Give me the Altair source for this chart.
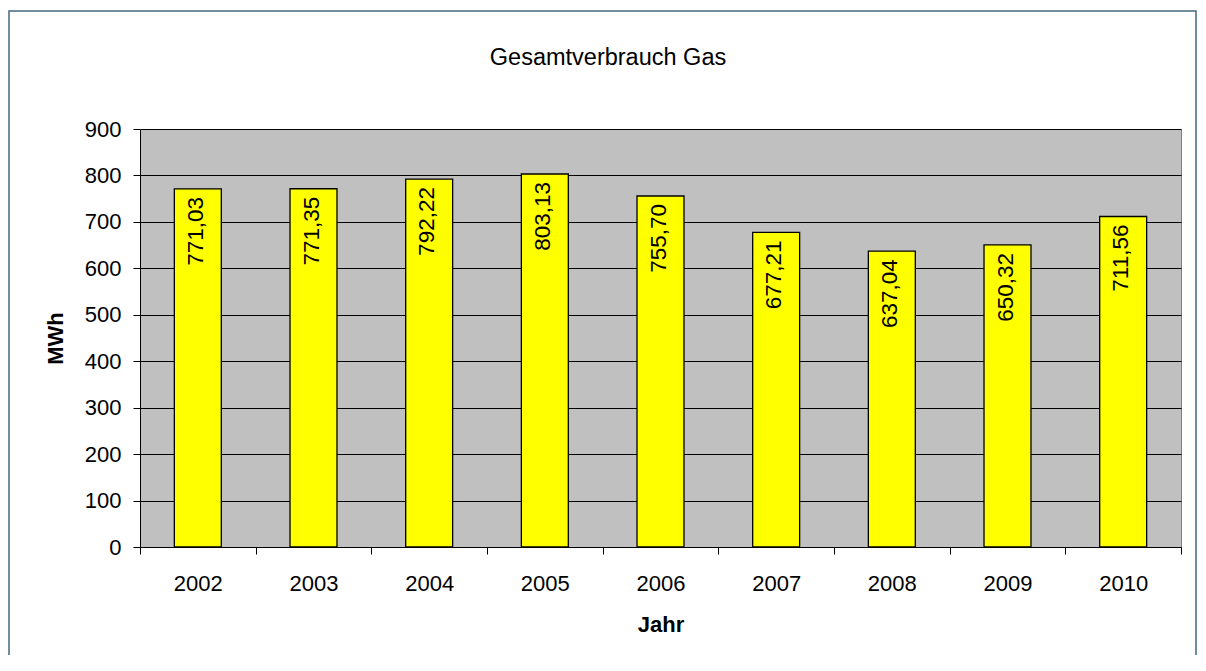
import altair as alt
import pandas as pd

years = ["2002", "2003", "2004", "2005", "2006", "2007", "2008", "2009", "2010"]
values = [771.03, 771.35, 792.22, 803.13, 755.70, 677.21, 637.04, 650.32, 711.56]
labels = [f"{v:.2f}".replace(".", ",") for v in values]
y_ticks = [0, 100, 200, 300, 400, 500, 600, 700, 800, 900]
title_text = "Gesamtverbrauch Gas"
x_title = "Jahr"
y_title = "MWh"

FONT = "Liberation Sans, Arial, Helvetica, sans-serif"

df = pd.DataFrame({"Jahr": years, "MWh": values, "label": labels})

x_enc = alt.X(
    "Jahr:N",
    sort=years,
    scale=alt.Scale(paddingInner=0, paddingOuter=0),
    axis=alt.Axis(
        title=x_title,
        labelAngle=0,
        labelFont=FONT,
        labelFontSize=22,
        labelColor="black",
        labelPadding=19,
        tickBand="extent",
        tickColor="black",
        tickSize=7,
        domainColor="black",
        grid=False,
        titleFont=FONT,
        titleFontSize=22,
        titleFontWeight="bold",
        titleColor="black",
        titlePadding=20,
    ),
)

y_enc = alt.Y(
    "MWh:Q",
    scale=alt.Scale(domain=[0, 900], nice=False, zero=True),
    axis=alt.Axis(
        title=y_title,
        values=y_ticks,
        labelFont=FONT,
        labelFontSize=22,
        labelColor="black",
        labelPadding=12,
        tickColor="black",
        tickSize=7,
        domainColor="black",
        grid=True,
        gridColor="black",
        gridOpacity=1,
        gridWidth=1,
        titleFont=FONT,
        titleFontSize=22,
        titleFontWeight="bold",
        titleColor="black",
        titlePadding=17,
    ),
)

base = alt.Chart(df)

bars = base.mark_bar(
    color="#FFFF00", stroke="black", strokeWidth=1.3, width=alt.RelativeBandSize(0.406)
).encode(x=x_enc, y=y_enc)

texts = base.mark_text(
    angle=270,
    align="right",
    baseline="middle",
    dx=-8,
    dy=-2,
    font=FONT,
    fontSize=22.5,
    color="black",
).encode(x=alt.X("Jahr:N", sort=years), y=alt.Y("MWh:Q"), text="label:N")

frame = alt.Chart(alt.Data(values=[{"f": 1}])).mark_rect(
    filled=False, stroke="#41697E", strokeWidth=1.5
).encode(
    x=alt.value(-131), x2=alt.value(1056), y=alt.value(-118), y2=alt.value(571)
)

title = alt.Chart(alt.Data(values=[{"t": title_text}])).mark_text(
    align="center", baseline="alphabetic", font=FONT, fontSize=23.5, color="black"
).encode(x=alt.value(468), y=alt.value(-64), text="t:N")

chart = (
    alt.layer(frame, bars, texts, title)
    .properties(
        width=1041,
        height=418,
        padding={"left": 132, "top": 121, "right": 17, "bottom": 108},
        autosize=alt.AutoSizeParams(type="none"),
        background="white",
    )
    .configure_view(fill="#C0C0C0", stroke="#808080", strokeWidth=1)
)

chart.save("out.html", embed_options={"renderer": "svg", "actions": False})
